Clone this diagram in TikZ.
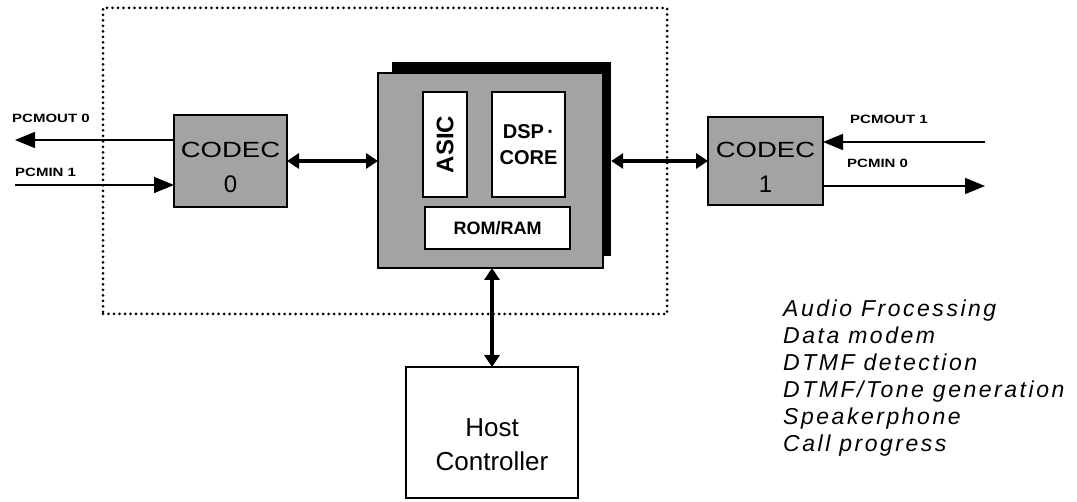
\documentclass[tikz,border=0pt]{standalone}
\usepackage{fontspec}
\usepackage{graphicx}
\setmainfont{Liberation Sans}
\newfontfamily\listfont[LetterSpace=11]{Liberation Sans}
\usetikzlibrary{arrows.meta}
\begin{document}
\begin{tikzpicture}[x=1pt,y=-1pt,
  box/.style={draw=black, line width=2pt, inner sep=0pt, outer sep=0pt},
  graybox/.style={box, fill=black!36},
  whitebox/.style={box, fill=white},
  bus/.style={line width=4pt, {Triangle[length=12pt,width=15pt]}-{Triangle[length=12pt,width=15pt]}},
  sig/.style={line width=1.5pt, -{Triangle[length=20pt,width=16pt]}},
  pcm/.style={font=\bfseries\fontsize{12}{12}\selectfont, inner sep=0pt, anchor=base west},
  codectext/.style={align=center, inner sep=0pt, font=\fontsize{22}{35}\selectfont},
  inner/.style={whitebox, line width=1.8pt, align=center, font=\bfseries\fontsize{20}{26}\selectfont},
  lst/.style={font=\listfont\itshape\fontsize{23}{23}\selectfont, anchor=base west, inner sep=0pt}
]
\useasboundingbox (0,0) rectangle (1077,502);
% dotted chip frame
\node[draw, line width=3pt, line cap=round, dash pattern=on 0pt off 5.5pt,
      minimum width=564pt, minimum height=306pt, inner sep=0pt] (frame) at (385,161) {};
% central block
\node[fill=black, minimum width=219pt, minimum height=194pt, inner sep=0pt] (shadow) at (501.5,159) {};
\node[graybox, line width=2.4pt, minimum width=225pt, minimum height=195pt] (main) at (490.5,170.5) {};
\node[inner, rotate=90, minimum width=105pt, minimum height=44pt, font=\bfseries\fontsize{24}{24}\selectfont] (asic) at (445,144.5) {ASIC};
\node[inner, minimum width=73pt, minimum height=105pt] (dsp) at (528.5,144.5) {DSP\,·\\CORE};
\node[inner, minimum width=145pt, minimum height=42pt, font=\bfseries\fontsize{18}{18}\selectfont] (rom) at (497.5,228) {ROM/RAM};
% codecs
\node[graybox, minimum width=113pt, minimum height=92pt] (c0) at (230.5,161) {};
\node[codectext] (c0t) at ([yshift=-6pt]c0.center) {\scalebox{1.25}[1]{CODEC}\\\fontsize{24}{35}\selectfont 0};
\node[graybox, minimum width=115pt, minimum height=88pt] (c1) at (765.5,161) {};
\node[codectext] (c1t) at ([yshift=-6pt]c1.center) {\scalebox{1.25}[1]{CODEC}\\\fontsize{24}{35}\selectfont 1};
% host
\node[whitebox, line width=1.6pt, minimum width=172pt, minimum height=131pt] (host) at (492,432.5) {};
\node[align=center, inner sep=0pt, font=\fontsize{26}{34}\selectfont] (hostt) at ([yshift=-12pt]host.center) {Host\\Controller};
% buses
\draw[bus] (c0.east) -- (c0.east -| main.west);
\draw[bus] (shadow.east |- c1.west) -- (c1.west);
\draw[bus] (host.north |- main.south) -- (host.north);
% PCM signals
\coordinate (po0) at (15,140);
\coordinate (pi1) at (15,185);
\coordinate (po1) at (985,142);
\coordinate (pi0) at (985,186);
\draw[sig] (c0.west |- po0) -- (po0);
\draw[sig] (pi1) -- (c0.west |- pi1);
\draw[sig] (po1) -- (c1.east |- po1);
\draw[sig] (c1.east |- pi0) -- (pi0);
\node[pcm] (lpo0) at (12,123) {\scalebox{1.25}[1]{PCMOUT 0}};
\node[pcm] (lpi1) at (15,177) {\scalebox{1.25}[1]{PCMIN 1}};
\node[pcm] (lpo1) at (850,124) {\scalebox{1.25}[1]{PCMOUT 1}};
\node[pcm] (lpi0) at (847,168) {\scalebox{1.25}[1]{PCMIN 0}};
% applications list
\node[lst] (l1) at (783,317) {Audio Frocessing};
\node[lst] (l2) at (783,344) {Data modem};
\node[lst] (l3) at (783,371) {DTMF detection};
\node[lst] (l4) at (783,398) {DTMF/Tone generation};
\node[lst] (l5) at (783,425) {Speakerphone};
\node[lst] (l6) at (783,452) {Call progress};
\end{tikzpicture}
\end{document}
